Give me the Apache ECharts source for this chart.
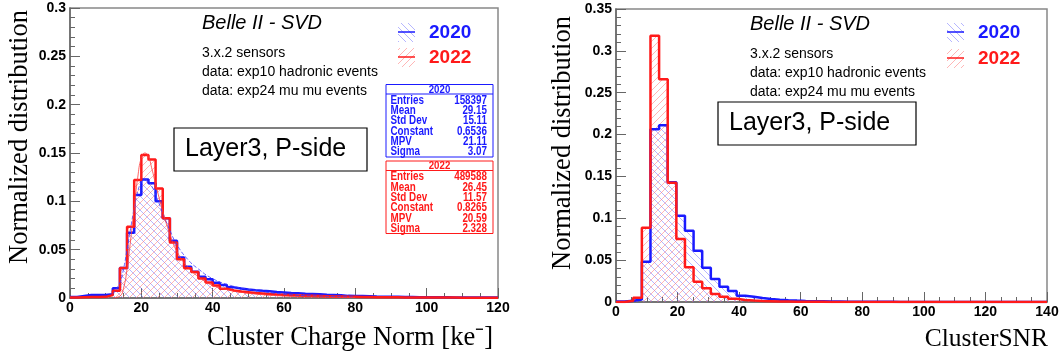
<!DOCTYPE html>
<html>
<head>
<meta charset="utf-8">
<script src="https://cdn.jsdelivr.net/npm/echarts@6/dist/echarts.min.js"></script>
<style>
  html, body { margin: 0; padding: 0; background: #fff; }
  #chart { width: 1062px; height: 354px; }
</style>
</head>
<body>
<div id="chart"></div>
<script>
// ---- left pad: Cluster Charge Norm, 60 bins of 2 ke- ----
var chargeBinWidth = 2;
var charge2020 = [
  0.001, 0.002, 0.003, 0.003, 0.003, 0.004, 0.010, 0.031, 0.0675, 0.1065,
  0.1227, 0.1186, 0.100, 0.0824, 0.0593, 0.042, 0.0324, 0.0272, 0.022, 0.0193,
  0.0158, 0.0134, 0.011, 0.0098, 0.0087, 0.008, 0.0074, 0.0070, 0.0062, 0.0058,
  0.0052, 0.0049, 0.0043, 0.0041, 0.0039, 0.0033, 0.0031, 0.0029, 0.0022, 0.0021,
  0.0020, 0.0018, 0.0015, 0.0014, 0.0013, 0.0012, 0.0011, 0.0010, 0.0009, 0.0009,
  0.0008, 0.0007, 0.0007, 0.0006, 0.0006, 0.0005, 0.0005, 0.0005, 0.0004, 0.0004
];
var charge2022 = [
  0.0005, 0.0008, 0.001, 0.001, 0.0012, 0.003, 0.0076, 0.031, 0.0737, 0.122,
  0.148, 0.1434, 0.1134, 0.0824, 0.0575, 0.040, 0.0307, 0.027, 0.0203, 0.016,
  0.013, 0.0095, 0.0078, 0.0068, 0.006, 0.0052, 0.0047, 0.0042, 0.0037, 0.0033,
  0.003, 0.0027, 0.0024, 0.0022, 0.002, 0.0018, 0.0016, 0.0015, 0.0013, 0.0012,
  0.0011, 0.001, 0.0009, 0.0008, 0.0008, 0.0007, 0.0006, 0.0006, 0.0005, 0.0005,
  0.0005, 0.0004, 0.0004, 0.0004, 0.0003, 0.0003, 0.0003, 0.0003, 0.0003, 0.0003
];
// fit curves
var chargeFitX = [12, 14, 15, 16, 17, 18, 19, 20, 21, 22, 23, 24, 26, 28, 30, 33, 36, 40, 45, 50, 60, 70, 80];
var chargeFit2020 = [0.004, 0.016, 0.03, 0.05, 0.072, 0.093, 0.11, 0.12, 0.123, 0.121, 0.115, 0.107, 0.088, 0.07, 0.055, 0.04, 0.03, 0.02, 0.013, 0.009, 0.004, 0.002, 0.001];
var chargeFit2022 = [0, 0.002, 0.01, 0.03, 0.06, 0.093, 0.125, 0.145, 0.15, 0.146, 0.133, 0.118, 0.09, 0.066, 0.048, 0.032, 0.022, 0.013, 0.008, 0.005, 0.002, 0.001, 0.0005];

// ---- right pad: ClusterSNR, 50 bins of 2.8 ----
var snrBinWidth = 2.8;
var snr2020 = [
  0.0005, 0.0015, 0.003, 0.048, 0.2064, 0.211, 0.143, 0.103, 0.085, 0.0613,
  0.041, 0.0274, 0.0183, 0.0131, 0.0076, 0.0064, 0.0048, 0.0036, 0.0028, 0.0022,
  0.0017, 0.0013, 0.001, 0.0008, 0.0006, 0.0005, 0.0004, 0.0003, 0.0003, 0.0002,
  0.0002, 0.0002, 0.0001, 0.0001, 0.0001, 0.0001, 0.0001, 0.0001, 0.0001, 0.0001,
  0.0001, 0, 0, 0, 0, 0, 0, 0, 0, 0
];
var snr2022 = [
  0, 0.0016, 0.005, 0.0887, 0.318, 0.266, 0.1424, 0.0752, 0.0414, 0.0243,
  0.0163, 0.0095, 0.0064, 0.004, 0.0025, 0.0018, 0.0012, 0.0009, 0.0006, 0.0005,
  0.0004, 0.0003, 0.0002, 0.0002, 0.0001, 0.0001, 0.0001, 0.0001, 0.0001, 0.0001,
  0, 0, 0, 0, 0, 0, 0, 0, 0, 0,
  0, 0, 0, 0, 0, 0, 0, 0, 0, 0
];

var stats2020 = [['Entries', '158397'], ['Mean', '29.15'], ['Std Dev', '15.11'], ['Constant', '0.6536'], ['MPV', '21.11'], ['Sigma', '3.07']];
var stats2022 = [['Entries', '489588'], ['Mean', '26.45'], ['Std Dev', '11.57'], ['Constant', '0.8265'], ['MPV', '20.59'], ['Sigma', '2.328']];
var infoLines = ['3.x.2 sensors', 'data: exp10 hadronic events', 'data: exp24 mu mu events'];

var BLUE = '#1a1aff';
var RED = '#ff1a1a';
var SANS = '"Liberation Sans", Arial, sans-serif';
var SERIF = '"Liberation Serif", "Times New Roman", serif';

// histogram -> step points at the bin low edges
function steps(values, width) {
  var pts = values.map(function (v, i) { return [+(i * width).toFixed(2), v]; });
  pts.push([+(values.length * width).toFixed(2), values[values.length - 1]]);
  return pts;
}

function pairs(xs, ys) {
  return xs.map(function (x, i) { return [x, ys[i]]; });
}

// ROOT-like hatch fill, dir 1 = '/', -1 = '\'
function hatch(color, dir) {
  var s = 7;
  var c = document.createElement('canvas');
  c.width = s;
  c.height = s;
  var ctx = c.getContext('2d');
  ctx.strokeStyle = color;
  ctx.lineWidth = 1;
  ctx.beginPath();
  if (dir > 0) {
    ctx.moveTo(-1, s + 1); ctx.lineTo(s + 1, -1);
    ctx.moveTo(-1, 1); ctx.lineTo(1, -1);
    ctx.moveTo(s - 1, s + 1); ctx.lineTo(s + 1, s - 1);
  } else {
    ctx.moveTo(-1, -1); ctx.lineTo(s + 1, s + 1);
    ctx.moveTo(s - 1, -1); ctx.lineTo(s + 1, 1);
    ctx.moveTo(-1, s - 1); ctx.lineTo(1, s + 1);
  }
  ctx.stroke();
  return { image: c, repeat: 'repeat' };
}

var hatchBlue = hatch('rgba(110,110,255,0.5)', -1);
var hatchRed = hatch('rgba(255,110,110,0.5)', 1);

function histSeries(data, color, pattern, idx) {
  return {
    type: 'line',
    xAxisIndex: idx,
    yAxisIndex: idx,
    data: data,
    step: 'end',
    symbol: 'none',
    silent: true,
    lineStyle: { color: color, width: 2.5 },
    itemStyle: { color: color },
    areaStyle: { color: pattern, opacity: 1 }
  };
}

function fitSeries(data, color, dashed) {
  return {
    type: 'line',
    xAxisIndex: 0,
    yAxisIndex: 0,
    data: data,
    smooth: true,
    symbol: 'none',
    silent: true,
    lineStyle: { color: color, width: 1, type: dashed ? [4, 2] : 'solid' }
  };
}

function xAxis(idx, max) {
  return {
    type: 'value',
    gridIndex: idx,
    min: 0,
    max: max,
    interval: 20,
    axisLine: { onZero: false, lineStyle: { color: '#666', width: 1.5 } },
    axisTick: { inside: true, length: 10, lineStyle: { color: '#666' } },
    minorTick: { show: true, splitNumber: 4, length: 5, lineStyle: { color: '#666' } },
    splitLine: { show: false },
    axisLabel: { color: '#000', fontWeight: 'bold', fontSize: 14, fontFamily: SANS, margin: 3 }
  };
}

function yAxis(idx, max) {
  return {
    type: 'value',
    gridIndex: idx,
    min: 0,
    max: max,
    interval: 0.05,
    axisLine: { show: true, onZero: false, lineStyle: { color: '#666', width: 1.5 } },
    axisTick: { show: true, inside: true, length: 10, lineStyle: { color: '#666' } },
    minorTick: { show: true, splitNumber: 5, length: 5, lineStyle: { color: '#666' } },
    splitLine: { show: false },
    axisLabel: { color: '#000', fontWeight: 'bold', fontSize: 14, fontFamily: SANS, margin: 4 }
  };
}

function txt(x, y, text, font, fill, align, extra) {
  var el = {
    type: 'text', x: x, y: y, silent: true,
    style: { text: text, font: font, fill: fill, align: align || 'left', verticalAlign: 'middle' }
  };
  for (var k in extra) el[k] = extra[k];
  return el;
}

function statsBox(x, y, title, rows, color) {
  var w = 107, h = 72.5;
  var els = [
    { type: 'rect', shape: { x: x, y: y, width: w, height: h }, style: { fill: '#fff', stroke: color, lineWidth: 1 }, silent: true },
    { type: 'line', shape: { x1: x, y1: y + 9.5, x2: x + w, y2: y + 9.5 }, style: { stroke: color, lineWidth: 1 }, silent: true },
    txt(x + w / 2, y + 5, title, 'bold 11px ' + SANS, color, 'center', { scaleX: 0.88 })
  ];
  rows.forEach(function (r, i) {
    var ry = y + 16 + i * 10.3;
    els.push(txt(x + 4.5, ry, r[0], 'bold 12px ' + SANS, color, 'left', { scaleX: 0.82 }));
    els.push(txt(x + w - 6, ry, r[1], 'bold 12px ' + SANS, color, 'right', { scaleX: 0.82 }));
  });
  return els;
}

function legendEntry(x, y, label, color, pattern) {
  return [
    { type: 'rect', shape: { x: x, y: y - 9, width: 17, height: 19 }, style: { fill: pattern }, silent: true },
    { type: 'line', shape: { x1: x, y1: y, x2: x + 17, y2: y }, style: { stroke: color, lineWidth: 1.5 }, silent: true },
    txt(x + 31, y + 1, label, 'bold 19px ' + SANS, color, 'left')
  ];
}

function padTexts(x0, yTop, boxX, boxY, boxW) {
  var els = [txt(x0, yTop, 'Belle II - SVD', 'italic 20px ' + SANS, '#000')];
  infoLines.forEach(function (t, i) {
    els.push(txt(x0, yTop + 30 + i * 19, t, '14px ' + SANS, '#000'));
  });
  els.push({ type: 'rect', shape: { x: boxX, y: boxY, width: boxW, height: 43 }, style: { fill: '#fff', stroke: '#000', lineWidth: 1.2 }, silent: true });
  els.push(txt(boxX + 11, boxY + 21, 'Layer3, P-side', '25px ' + SANS, '#000'));
  return els;
}

var graphics = [];
graphics = graphics.concat(padTexts(202, 23, 174, 128, 193));
graphics = graphics.concat(padTexts(750, 24, 718, 102, 198));
graphics = graphics.concat(legendEntry(398, 32, '2020', BLUE, hatchBlue));
graphics = graphics.concat(legendEntry(398, 57, '2022', RED, hatchRed));
graphics = graphics.concat(legendEntry(947, 32, '2020', BLUE, hatchBlue));
graphics = graphics.concat(legendEntry(947, 58, '2022', RED, hatchRed));
graphics = graphics.concat(statsBox(386, 84.5, '2020', stats2020, BLUE));
graphics = graphics.concat(statsBox(386, 161, '2022', stats2022, RED));
graphics.push(txt(20, 137, 'Normalized distribution', '26.5px ' + SERIF, '#000', 'center', { rotation: Math.PI / 2 }));
graphics.push(txt(563, 143, 'Normalized distribution', '26.5px ' + SERIF, '#000', 'center', { rotation: Math.PI / 2 }));
graphics.push(txt(493, 338, 'Cluster Charge Norm [ke\u207B]', '26.5px ' + SERIF, '#000', 'right'));
graphics.push(txt(1048, 339, 'ClusterSNR', '25.5px ' + SERIF, '#000', 'right'));

var chart = echarts.init(document.getElementById('chart'), null, { renderer: 'canvas' });
chart.setOption({
  animation: false,
  backgroundColor: '#fff',
  grid: [
    { left: 70, right: 564, top: 8, bottom: 56, show: true, borderColor: '#888', borderWidth: 1.5, backgroundColor: 'transparent' },
    { left: 616, right: 15, top: 9, bottom: 52, show: true, borderColor: '#888', borderWidth: 1.5, backgroundColor: 'transparent' }
  ],
  xAxis: [xAxis(0, 120), xAxis(1, 140)],
  yAxis: [yAxis(0, 0.3), yAxis(1, 0.35)],
  series: [
    histSeries(steps(charge2020, chargeBinWidth), BLUE, hatchBlue, 0),
    histSeries(steps(charge2022, chargeBinWidth), RED, hatchRed, 0),
    fitSeries(pairs(chargeFitX, chargeFit2020), 'rgba(60,60,255,0.8)', true),
    fitSeries(pairs(chargeFitX, chargeFit2022), 'rgba(255,60,60,0.8)', false),
    histSeries(steps(snr2020, snrBinWidth), BLUE, hatchBlue, 1),
    histSeries(steps(snr2022, snrBinWidth), RED, hatchRed, 1)
  ],
  graphic: graphics
});
</script>
</body>
</html>
